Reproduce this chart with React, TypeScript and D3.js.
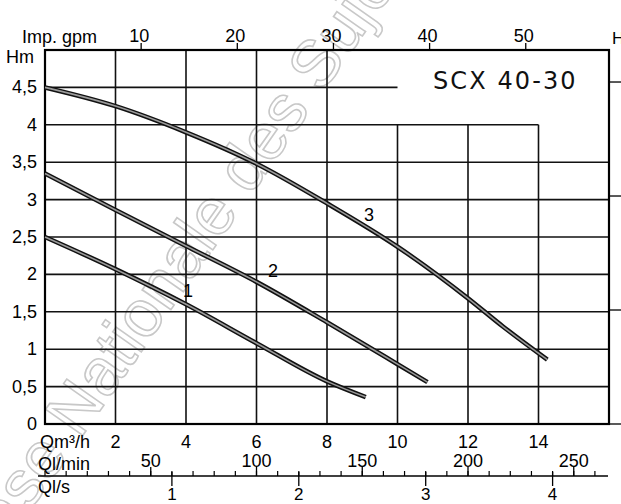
import React from 'react';
import * as d3 from 'd3';

// ---- data ----
const qGridTicks = [2, 4, 6, 8, 10, 12, 14];
const hGridTicks = [0.5, 1, 1.5, 2, 2.5, 3, 3.5, 4, 4.5];
const hTickValues = [0, 0.5, 1, 1.5, 2, 2.5, 3, 3.5, 4, 4.5];
const hTickLabels = ['0', '0,5', '1', '1,5', '2', '2,5', '3', '3,5', '4', '4,5'];
const gpmTicks = [10, 20, 30, 40, 50];
const lminMinorTicks = d3.range(0, 270, 10);
const lminMajorTicks = [50, 100, 150, 200, 250];
const lsTicks = [1, 2, 3, 4];
const ftTicks = [0, 5, 10, 15];

const curveNames = ['1', '2', '3'];
const curve1: [number, number][] = [[0, 2.5], [2, 2.07], [4, 1.6], [6, 1.08], [8, 0.57], [9.1, 0.36]];
const curve2: [number, number][] = [[0, 3.35], [2, 2.86], [4, 2.38], [6, 1.9], [8, 1.36], [10, 0.8], [10.85, 0.56]];
const curve3: [number, number][] = [[0, 4.5], [2, 4.25], [4, 3.9], [6, 3.48], [8, 2.95], [10, 2.37], [12, 1.68], [13, 1.3], [14.25, 0.86]];
const curveLabelAt: [number, number][] = [[4.06, 1.7], [6.47, 1.97], [9.19, 2.71]];

const M3H_PER_GPM = 0.272765;
const M3H_PER_LMIN = 0.06;
const M3H_PER_LS = 3.6;
const M_PER_FT = 0.3048;

const W = 621;
const H = 504;
const font = '"Liberation Sans", Arial, sans-serif';

export default function App() {
  const x = d3.scaleLinear().domain([0, 16]).range([45, 609]);
  const y = d3.scaleLinear().domain([0, 5]).range([424, 50]);
  const line = d3
    .line<[number, number]>()
    .x((d) => x(d[0]))
    .y((d) => y(d[1]))
    .curve(d3.curveMonotoneX);
  const curves = [curve1, curve2, curve3];

  const axisY = 476;

  return (
    <svg
      width={W}
      height={H}
      viewBox={`0 0 ${W} ${H}`}
      style={{ position: 'absolute', left: 0, top: 0, background: '#fff' }}
      fontFamily={font}
    >
      <rect x={0} y={0} width={W} height={H} fill="#fff" />

      {/* watermark */}
      <text
        x={0}
        y={0}
        transform="translate(-17,578) rotate(-55)"
        fontSize={66}
        fontFamily={font}
        fill="none"
        stroke="#c8c8c8"
        strokeWidth={1.6}
      >
        Base Nationale des Sujets
      </text>

      {/* horizontal gridlines */}
      {hGridTicks.map((h) => {
        const qEnd = h >= 4.5 ? 10 : h >= 4 ? 14 : 16;
        return (
          <line key={'h' + h} x1={x(0)} x2={x(qEnd)} y1={y(h)} y2={y(h)} stroke="#111" strokeWidth={1.6} />
        );
      })}
      {/* vertical gridlines */}
      {qGridTicks.map((q) => {
        const hEnd = q >= 10 ? 4 : 5;
        return (
          <line key={'v' + q} x1={x(q)} x2={x(q)} y1={y(0)} y2={y(hEnd)} stroke="#111" strokeWidth={1.6} />
        );
      })}

      {/* frame */}
      <rect x={x(0)} y={y(5)} width={x(16) - x(0)} height={y(0) - y(5)} fill="none" stroke="#000" strokeWidth={2.2} />

      {/* curves */}
      {curves.map((c, i) => (
        <g key={'c' + i}>
          <path d={line(c) || ''} fill="none" stroke="#111" strokeWidth={4.6} strokeLinecap="butt" />
          <path d={line(c) || ''} fill="none" stroke="#9a9a9a" strokeWidth={1.6} strokeLinecap="butt" />
        </g>
      ))}
      {curveNames.map((n, i) => (
        <text key={'l' + n} x={x(curveLabelAt[i][0])} y={y(curveLabelAt[i][1])} fontSize={18} textAnchor="middle" fill="#000">
          {n}
        </text>
      ))}

      {/* title */}
      <text x={433} y={89} fontSize={24} fontFamily='"DejaVu Sans", sans-serif' letterSpacing={2.1} fill="#111">
        SCX 40-30
      </text>

      {/* left axis */}
      <text x={6} y={63} fontSize={18} fill="#000">Hm</text>
      {hTickValues.map((h, i) => (
        <text key={'yl' + h} x={37} y={y(h) + 6} fontSize={18} textAnchor="end" fill="#000">
          {hTickLabels[i]}
        </text>
      ))}

      {/* top axis: Imp. gpm */}
      <text x={22} y={43} fontSize={18} fill="#000">Imp. gpm</text>
      {gpmTicks.map((g) => (
        <g key={'g' + g}>
          <line x1={x(g * M3H_PER_GPM)} x2={x(g * M3H_PER_GPM)} y1={y(5) - 7} y2={y(5)} stroke="#000" strokeWidth={1.3} />
          <text x={x(g * M3H_PER_GPM) - 2} y={42} fontSize={18} textAnchor="middle" fill="#000">
            {g}
          </text>
        </g>
      ))}

      {/* right axis: H ft */}
      <text x={612} y={44} fontSize={17} fill="#000">H</text>
      {ftTicks.map((f) => (
        <line key={'ft' + f} x1={x(16)} x2={621} y1={y(f * M_PER_FT)} y2={y(f * M_PER_FT)} stroke="#000" strokeWidth={1.3} />
      ))}

      {/* bottom axis: Q m3/h */}
      <text x={40} y={448} fontSize={18} fill="#000">Qm³/h</text>
      {qGridTicks.map((q) => (
        <text key={'ql' + q} x={x(q)} y={448} fontSize={18} textAnchor="middle" fill="#000">
          {q}
        </text>
      ))}

      {/* bottom axis: l/min and l/s */}
      <line x1={38} x2={608} y1={axisY} y2={axisY} stroke="#000" strokeWidth={1.4} />
      <text x={38} y={470} fontSize={18} fill="#000">Ql/min</text>
      {lminMinorTicks.map((v) => (
        <line key={'lm' + v} x1={x(v * M3H_PER_LMIN)} x2={x(v * M3H_PER_LMIN)} y1={axisY} y2={axisY - 5} stroke="#000" strokeWidth={1.2} />
      ))}
      {lminMajorTicks.map((v) => (
        <g key={'lM' + v}>
          <line x1={x(v * M3H_PER_LMIN)} x2={x(v * M3H_PER_LMIN)} y1={axisY} y2={axisY - 9} stroke="#000" strokeWidth={1.3} />
          <text x={x(v * M3H_PER_LMIN)} y={467} fontSize={18} textAnchor="middle" fill="#000">
            {v}
          </text>
        </g>
      ))}
      <text x={38} y={493} fontSize={18} fill="#000">Ql/s</text>
      {lsTicks.map((v) => (
        <g key={'ls' + v}>
          <line x1={x(v * M3H_PER_LS)} x2={x(v * M3H_PER_LS)} y1={axisY - 4} y2={axisY + 10} stroke="#000" strokeWidth={1.3} />
          <text x={x(v * M3H_PER_LS)} y={500} fontSize={17} textAnchor="middle" fill="#000">
            {v}
          </text>
        </g>
      ))}
    </svg>
  );
}
